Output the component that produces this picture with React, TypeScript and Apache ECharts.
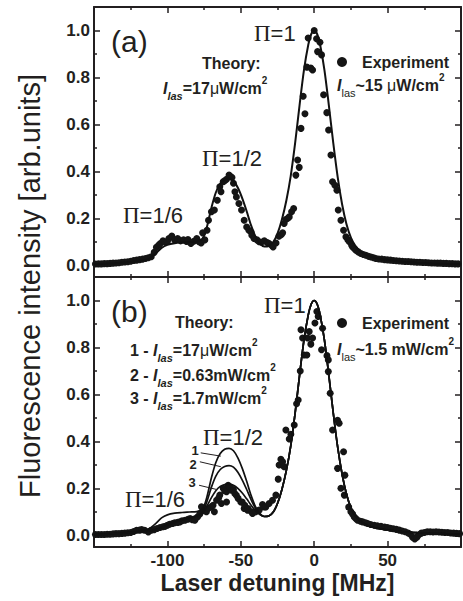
import React, { useEffect, useRef } from 'react';
import * as echarts from 'echarts';

type Pt = [number, number];

// ---------- axis scales ----------
const X_MIN = -150;
const X_MAX = 100;
const X_INTERVAL = 50;
const Y_MIN = -0.05;
const Y_MAX = 1.1;
const yMajorTicks = [0, 0.2, 0.4, 0.6, 0.8, 1.0];
const yMinorTicks = [0.1, 0.3, 0.5, 0.7, 0.9];

// ---------- theory curves ----------
const theory1Head: Pt[] = [
  [-150, 0.004], [-140, 0.007], [-130, 0.012], [-120, 0.018], [-113, 0.026], [-108, 0.05],
  [-104, 0.074], [-100, 0.087], [-95, 0.094], [-90, 0.097], [-85, 0.099], [-80, 0.101],
  [-77, 0.108], [-75, 0.125], [-73, 0.165], [-70, 0.245], [-67, 0.31], [-64, 0.348],
  [-61, 0.366], [-58, 0.37], [-55, 0.36], [-52, 0.33], [-49, 0.285], [-46, 0.23],
  [-43, 0.17], [-40, 0.122], [-37, 0.092], [-34, 0.08],
];
const theory2Head: Pt[] = [
  [-150, 0.003], [-140, 0.005], [-130, 0.009], [-120, 0.014], [-113, 0.018], [-108, 0.025],
  [-104, 0.034], [-100, 0.046], [-95, 0.058], [-90, 0.067], [-85, 0.075], [-80, 0.084],
  [-77, 0.093], [-75, 0.11], [-73, 0.145], [-70, 0.205], [-67, 0.252], [-64, 0.28],
  [-61, 0.293], [-58, 0.297], [-55, 0.29], [-52, 0.268], [-49, 0.235], [-46, 0.195],
  [-43, 0.152], [-40, 0.115], [-37, 0.09], [-34, 0.08],
];
const theory3Head: Pt[] = [
  [-150, 0.003], [-140, 0.005], [-130, 0.009], [-120, 0.013], [-113, 0.017], [-108, 0.023],
  [-104, 0.031], [-100, 0.042], [-95, 0.054], [-90, 0.064], [-85, 0.072], [-80, 0.081],
  [-77, 0.09], [-75, 0.102], [-73, 0.125], [-70, 0.16], [-67, 0.19], [-64, 0.208],
  [-61, 0.216], [-58, 0.218], [-55, 0.213], [-52, 0.2], [-49, 0.18], [-46, 0.155],
  [-43, 0.128], [-40, 0.105], [-37, 0.088], [-34, 0.08],
];
const theoryTail: Pt[] = [
  [-31, 0.082], [-28, 0.098], [-25, 0.135], [-22, 0.195], [-19, 0.275], [-16, 0.38],
  [-13, 0.52], [-10, 0.68], [-7, 0.83], [-4, 0.94], [-2, 0.985], [0, 1.0], [2, 0.985],
  [4, 0.94], [7, 0.83], [10, 0.68], [13, 0.52], [16, 0.375], [19, 0.26], [22, 0.175],
  [25, 0.118], [28, 0.083], [31, 0.062], [35, 0.046], [40, 0.034], [50, 0.022],
  [60, 0.015], [70, 0.011], [80, 0.008], [90, 0.006], [100, 0.005],
];
const theory1: Pt[] = [...theory1Head, ...theoryTail];
const theory2: Pt[] = [...theory2Head, ...theoryTail];
const theory3: Pt[] = [...theory3Head, ...theoryTail];

// ---------- experiment (a): I ~ 15 uW/cm2 ----------
const experimentA: Pt[] = [
  [-149, 0.005], [-147, 0.006], [-145, 0.006], [-143, 0.007], [-141, 0.007], [-139, 0.008],
  [-137, 0.009], [-135, 0.01], [-133, 0.011], [-131, 0.013], [-129, 0.014], [-127, 0.015],
  [-125, 0.017], [-123, 0.02], [-121, 0.022], [-119, 0.024], [-117, 0.026], [-115, 0.029],
  [-113, 0.032], [-111, 0.036], [-109, 0.055], [-107.5, 0.077], [-106, 0.085], [-105, 0.092],
  [-103, 0.104], [-101.5, 0.098], [-100, 0.101], [-99, 0.114], [-97, 0.124], [-95, 0.107],
  [-93, 0.114], [-91, 0.104], [-89, 0.108], [-87, 0.101], [-86, 0.11], [-84, 0.093],
  [-82, 0.102], [-80, 0.114], [-78.5, 0.1], [-77, 0.095], [-76, 0.138], [-74.5, 0.108],
  [-73, 0.149], [-72, 0.192], [-70, 0.228], [-68, 0.235], [-66, 0.277], [-64.3, 0.334],
  [-63.5, 0.313], [-62, 0.356], [-61, 0.36], [-59.7, 0.366], [-58, 0.384], [-57, 0.378],
  [-56, 0.374], [-55, 0.349], [-54, 0.313], [-53, 0.291], [-51.3, 0.263], [-49.5, 0.235],
  [-47.7, 0.192], [-46, 0.163], [-44.5, 0.149], [-43, 0.142], [-42.5, 0.128], [-41, 0.114],
  [-39, 0.108], [-37.5, 0.1], [-36, 0.098], [-34, 0.104], [-32, 0.097], [-30.7, 0.093],
  [-29, 0.085], [-28, 0.078], [-26, 0.095], [-24, 0.124], [-22.5, 0.13], [-21.5, 0.138],
  [-20.5, 0.178], [-19.3, 0.195], [-18, 0.2], [-17, 0.206], [-15.4, 0.228], [-14, 0.242],
  [-12.5, 0.384], [-11.3, 0.448], [-10.2, 0.417], [-9, 0.583], [-7.5, 0.72], [-6.3, 0.645],
  [-5, 0.844], [-4.1, 0.968], [-2.3, 0.84], [-1.1, 0.832], [0, 1.0], [1.6, 0.965],
  [2.3, 0.91], [3.9, 0.95], [5, 0.896], [6.4, 0.726], [8.6, 0.65], [9.8, 0.576],
  [11.4, 0.47], [12.5, 0.356], [14.1, 0.341], [15.5, 0.32], [16.4, 0.235], [18.2, 0.192],
  [20, 0.149], [21.6, 0.121], [23, 0.108], [24, 0.1], [25.5, 0.085], [26.2, 0.078],
  [27.5, 0.07], [28.4, 0.064], [30, 0.057], [31.8, 0.05], [33.5, 0.046], [35.2, 0.043],
  [37, 0.038], [38.7, 0.035], [40.5, 0.032], [42, 0.029], [44, 0.027], [46, 0.026],
  [48, 0.024], [50, 0.023], [52, 0.022], [54, 0.02], [56, 0.019], [58, 0.018],
  [60, 0.017], [62, 0.016], [64, 0.016], [66, 0.015], [68, 0.014], [70, 0.013],
  [72, 0.013], [74, 0.012], [76, 0.012], [78, 0.011], [80, 0.01], [82, 0.01],
  [84, 0.009], [86, 0.009], [88, 0.008], [90, 0.008], [92, 0.007], [94, 0.007],
  [96, 0.006], [98, 0.006],
];

// ---------- experiment (b): I ~ 1.5 mW/cm2 ----------
const experimentB: Pt[] = [
  [-149, 0.003], [-147, 0.003], [-145, 0.003], [-143, 0.003], [-141, 0.004], [-139, 0.004],
  [-137, 0.006], [-135, 0.007], [-133, 0.007], [-131, 0.008], [-129, 0.009], [-127, 0.011],
  [-125, 0.012], [-123, 0.016], [-121, 0.021], [-119, 0.022], [-117.5, 0.024], [-115.5, 0.021],
  [-113, 0.014], [-111, 0.021], [-109, 0.024], [-107, 0.029], [-105, 0.033], [-103, 0.036],
  [-101.5, 0.038], [-100, 0.043], [-98.5, 0.047], [-96.5, 0.05], [-95, 0.053], [-93, 0.055],
  [-91.5, 0.057], [-90, 0.062], [-88, 0.064], [-86, 0.068], [-84.5, 0.071], [-83, 0.066],
  [-81.3, 0.064], [-79.5, 0.078], [-78, 0.09], [-76.8, 0.121], [-75, 0.105], [-73.4, 0.1],
  [-72, 0.115], [-70, 0.121], [-68.9, 0.128], [-68, 0.1], [-66.5, 0.149], [-65, 0.16],
  [-64.3, 0.171], [-63.2, 0.135], [-62, 0.2], [-61, 0.19], [-59.7, 0.185], [-59.7, 0.142],
  [-58.6, 0.213], [-57.5, 0.205], [-56.3, 0.192], [-55, 0.195], [-54.1, 0.178], [-53, 0.17],
  [-51.8, 0.157], [-50, 0.142], [-49, 0.142], [-47.7, 0.114], [-47.3, 0.128], [-45.4, 0.107],
  [-45, 0.114], [-42.7, 0.1], [-42, 0.093], [-39.8, 0.1], [-37.5, 0.107], [-35.2, 0.131],
  [-34, 0.12], [-32.9, 0.121], [-30.7, 0.135], [-28.4, 0.149], [-26.1, 0.171], [-24.5, 0.239],
  [-23.9, 0.299], [-22.7, 0.324], [-21.5, 0.313], [-20.5, 0.292], [-19.3, 0.448], [-17, 0.41],
  [-15.9, 0.43], [-13.6, 0.47], [-12, 0.56], [-10.9, 0.576], [-9.5, 0.7], [-9, 0.875],
  [-7.9, 0.84], [-6.8, 0.768], [-5, 0.768], [-4.5, 0.84], [-3.4, 0.868], [-2.3, 0.814],
  [-1.1, 0.84], [0.5, 0.904], [1.8, 0.953], [2.7, 0.932], [5, 0.79], [5.7, 0.882],
  [8.7, 0.765], [9.6, 0.747], [9.6, 0.697], [10.9, 0.605], [12.5, 0.448], [15.9, 0.49],
  [15.9, 0.285], [17, 0.477], [18.2, 0.2], [20, 0.356], [20.5, 0.171], [20.9, 0.256],
  [23.5, 0.12], [25, 0.1], [26.2, 0.09], [27.3, 0.078], [28.5, 0.07], [29.6, 0.064],
  [31.5, 0.06], [33, 0.057], [35, 0.053], [36.4, 0.05], [38.5, 0.046], [40.9, 0.043],
  [43, 0.04], [45.5, 0.038], [48, 0.035], [50, 0.033], [52, 0.03], [54, 0.028],
  [56, 0.025], [58, 0.022], [60, 0.018], [62, 0.015], [64, 0.01], [65.5, 0.004],
  [67, -0.008], [68.5, -0.016], [70, -0.008], [71.5, 0.003], [73, 0.009], [75, 0.012],
  [77, 0.015], [79, 0.015], [81, 0.014], [83, 0.015], [85, 0.014], [87, 0.013],
  [89, 0.012], [91, 0.012], [93, 0.01], [95, 0.009], [97, 0.008], [99, 0.007],
];

// leader lines from the curve numbers "1","2","3" to the curves (data coords)
const leaderLines: [Pt, Pt][] = [
  [[-77.3, 0.351], [-63.6, 0.337]],
  [[-77.9, 0.313], [-63.6, 0.292]],
  [[-78.4, 0.213], [-66.5, 0.195]],
];

// ---------- style ----------
const INK = '#231f20';
const DOT = '#151515';
const SANS = '"Liberation Sans", Arial, Helvetica, sans-serif';
const SERIF = '"Liberation Serif", "Times New Roman", serif';

const lineStyle = { color: INK, width: 2 };
const tickStyle = { color: INK, width: 1.5 };
const tickLabel = { color: INK, fontSize: 17, fontWeight: 'bold', fontFamily: SANS };

function xAxis(grid: number, position: string, labels: boolean, extra: any = {}) {
  return {
    type: 'value', gridIndex: grid, position, min: X_MIN, max: X_MAX, interval: X_INTERVAL,
    axisLine: { show: true, onZero: false, lineStyle },
    axisTick: { show: true, inside: true, length: 6, lineStyle: tickStyle },
    minorTick: { show: true, splitNumber: 2, length: 3, lineStyle: tickStyle },
    splitLine: { show: false },
    minorSplitLine: { show: false },
    axisLabel: {
      show: labels, showMinLabel: false, showMaxLabel: false, margin: 5, ...tickLabel,
      formatter: (v: number) => String(v),
    },
    ...extra,
  };
}

function yAxis(grid: number, position: string, ticks: number[], len: number, labels: boolean, line: boolean) {
  return {
    type: 'value', gridIndex: grid, position, min: Y_MIN, max: Y_MAX,
    axisLine: { show: line, onZero: false, lineStyle },
    axisTick: { show: true, inside: true, length: len, customValues: ticks, lineStyle: tickStyle },
    splitLine: { show: false },
    axisLabel: {
      show: labels, customValues: ticks, margin: 4, ...tickLabel,
      formatter: (v: number) => v.toFixed(1),
    },
  };
}

const richBase = { fontFamily: SANS, fontSize: 16, fontWeight: 'bold', lineHeight: 26 };
const rich = {
  b: { ...richBase },
  i: { ...richBase, fontStyle: 'italic' },
  r: { ...richBase, fontWeight: 'normal' },
  subI: { fontFamily: SANS, fontSize: 11, fontWeight: 'bold', fontStyle: 'italic', lineHeight: 11, verticalAlign: 'bottom' },
  sub: { fontFamily: SANS, fontSize: 11, fontWeight: 'normal', lineHeight: 11, verticalAlign: 'bottom' },
  sup: { fontFamily: SANS, fontSize: 10, fontWeight: 'bold', lineHeight: 14, verticalAlign: 'top' },
};
const piRich = {
  p: { fontFamily: SERIF, fontSize: 23, lineHeight: 26 },
  n: { fontFamily: SANS, fontSize: 22, lineHeight: 26 },
};

function richText(x: number, y: number, text: string, r: any = rich, align = 'left') {
  return {
    type: 'text', x, y, silent: true,
    style: { text, rich: r, fill: INK, align, verticalAlign: 'middle', textAlign: align, textVerticalAlign: 'middle' },
  };
}
function plainText(x: number, y: number, text: string, size: number, weight = 'normal', align = 'left') {
  return {
    type: 'text', x, y, silent: true,
    style: {
      text, fill: INK, fontFamily: SANS, fontSize: size, fontWeight: weight,
      align, verticalAlign: 'middle', textAlign: align, textVerticalAlign: 'middle',
    },
  };
}

const legendBase = {
  data: [{ name: 'Experiment', icon: 'circle' }],
  left: 337, itemWidth: 10, itemHeight: 10, padding: 0, selectedMode: false,
  itemStyle: { color: DOT, opacity: 1 },
  textStyle: { color: INK, fontSize: 16, fontWeight: 'bold', fontFamily: SANS, padding: [0, 0, 0, 10] },
};

const scatterStyle = { color: DOT, opacity: 1, borderWidth: 0 };

const option: any = {
  animation: false,
  backgroundColor: '#ffffff',
  grid: [
    { left: 94, top: 7, width: 367, height: 270, outerBoundsMode: 'none', containLabel: false },
    { left: 94, top: 277, width: 367, height: 270, outerBoundsMode: 'none', containLabel: false },
  ],
  xAxis: [
    xAxis(0, 'bottom', false),
    xAxis(0, 'top', false),
    xAxis(1, 'bottom', true, {
      name: 'Laser detuning [MHz]', nameLocation: 'middle', nameGap: 24,
      nameTextStyle: { color: INK, fontSize: 23, fontWeight: 'bold', fontFamily: SANS },
    }),
    xAxis(1, 'top', false),
  ],
  yAxis: [
    yAxis(0, 'left', yMajorTicks, 6, true, true),
    yAxis(0, 'left', yMinorTicks, 3, false, false),
    yAxis(0, 'right', yMajorTicks, 6, false, true),
    yAxis(0, 'right', yMinorTicks, 3, false, false),
    yAxis(1, 'left', yMajorTicks, 6, true, true),
    yAxis(1, 'left', yMinorTicks, 3, false, false),
    yAxis(1, 'right', yMajorTicks, 6, false, true),
    yAxis(1, 'right', yMinorTicks, 3, false, false),
  ],
  legend: [
    { ...legendBase, top: 54 },
    { ...legendBase, top: 315 },
  ],
  series: [
    {
      name: 'Experiment', type: 'scatter', xAxisIndex: 0, yAxisIndex: 0, data: experimentA,
      symbol: 'circle', symbolSize: 7, itemStyle: scatterStyle, z: 2,
    },
    {
      name: 'Theory (a)', type: 'line', xAxisIndex: 0, yAxisIndex: 0, data: theory1,
      showSymbol: false, smooth: 0.3, lineStyle: { color: '#111', width: 2 }, z: 3,
    },
    {
      name: 'Experiment', type: 'scatter', xAxisIndex: 2, yAxisIndex: 4, data: experimentB,
      symbol: 'circle', symbolSize: 7, itemStyle: scatterStyle, z: 2,
    },
    {
      name: 'Theory 1', type: 'line', xAxisIndex: 2, yAxisIndex: 4, data: theory1,
      showSymbol: false, smooth: 0.3, lineStyle: { color: '#111', width: 1.7 }, z: 3,
      markLine: {
        silent: true, symbol: ['none', 'none'], label: { show: false },
        lineStyle: { color: INK, width: 1, type: 'solid' },
        data: leaderLines.map(([a, b]) => [{ coord: a }, { coord: b }]),
      },
    },
    {
      name: 'Theory 2', type: 'line', xAxisIndex: 2, yAxisIndex: 4, data: theory2,
      showSymbol: false, smooth: 0.3, lineStyle: { color: '#111', width: 1.7 }, z: 3,
    },
    {
      name: 'Theory 3', type: 'line', xAxisIndex: 2, yAxisIndex: 4, data: theory3,
      showSymbol: false, smooth: 0.3, lineStyle: { color: '#111', width: 1.7 }, z: 3,
    },
  ],
  graphic: [
    {
      type: 'text', x: 30, y: 286, rotation: Math.PI / 2, silent: true,
      style: {
        text: 'Fluorescence intensity [arb.units]', fill: INK, fontFamily: SANS, fontSize: 29,
        align: 'center', verticalAlign: 'middle', textAlign: 'center', textVerticalAlign: 'middle',
      },
    },
    // panel (a)
    plainText(111, 41, '(a)', 30),
    richText(254, 33, '{p|Π}{n|=1}', piRich),
    richText(202, 158, '{p|Π}{n|=1/2}', piRich),
    richText(123, 215, '{p|Π}{n|=1/6}', piRich),
    plainText(202, 63, 'Theory:', 16, 'bold'),
    richText(163, 88, '{i|I}{subI|las}{b|=17}{r|μ}{b|W/cm}{sup|2}'),
    richText(337, 85, '{i|I}{sub|las}{b|~15 }{r|μ}{b|W/cm}{sup|2}'),
    // panel (b)
    plainText(111, 311, '(b)', 30),
    richText(264, 305, '{p|Π}{n|=1}', piRich),
    richText(203, 437, '{p|Π}{n|=1/2}', piRich),
    richText(125, 499, '{p|Π}{n|=1/6}', piRich),
    plainText(175, 322, 'Theory:', 16, 'bold'),
    richText(130, 350, '{b|1 - }{i|I}{subI|las}{b|=17}{r|μ}{b|W/cm}{sup|2}'),
    richText(130, 375, '{b|2 - }{i|I}{subI|las}{b|=0.63mW/cm}{sup|2}'),
    richText(130, 398, '{b|3 - }{i|I}{subI|las}{b|=1.7mW/cm}{sup|2}'),
    richText(337, 349, '{i|I}{sub|las}{b|~1.5 mW/cm}{sup|2}'),
    plainText(195, 450.5, '1', 13, 'bold', 'center'),
    plainText(193, 464.5, '2', 13, 'bold', 'center'),
    plainText(192, 482.5, '3', 13, 'bold', 'center'),
  ],
};

export default function App() {
  const ref = useRef<HTMLDivElement>(null);
  useEffect(() => {
    if (!ref.current) return;
    const chart = echarts.init(ref.current, null, { renderer: 'svg' });
    chart.setOption(option);
    return () => chart.dispose();
  }, []);
  return (
    <div
      ref={ref}
      style={{ position: 'absolute', left: 0, top: 0, width: 463, height: 601, background: '#fff' }}
    />
  );
}
